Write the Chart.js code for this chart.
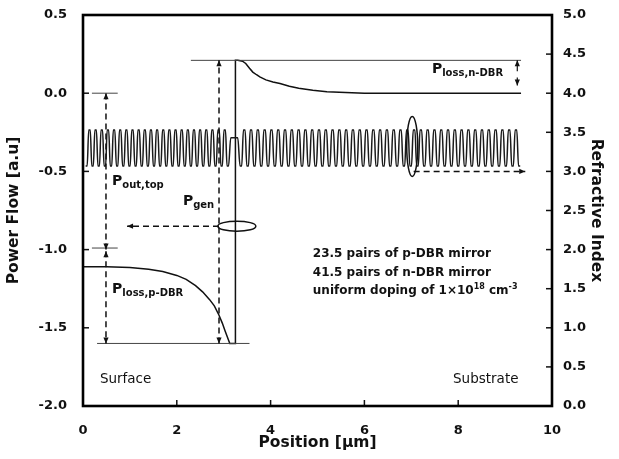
<!DOCTYPE html>
<html>
<head>
<meta charset="utf-8">
<script src="https://cdn.jsdelivr.net/npm/chart.js@4.4.1/dist/chart.umd.min.js"></script>
<style>
  html, body { margin: 0; padding: 0; background: #fff; }
  canvas { display: block; }
</style>
</head>
<body>
<canvas id="chart" width="619" height="459"></canvas>
<script>
// power flow through the structure (left axis)
const powerPos  = [0, 0.5, 1.0, 1.4, 1.7, 2.0, 2.2, 2.4, 2.55, 2.7, 2.8, 2.9, 2.97, 3.03, 3.08, 3.13, 3.2, 3.25,
                   3.25, 3.3, 3.4, 3.47, 3.55, 3.62, 3.7, 3.77, 3.9, 4.05, 4.2, 4.4, 4.6, 4.9, 5.2, 5.6, 6.0, 9.34];
const powerFlow = [-1.11, -1.11, -1.115, -1.125, -1.14, -1.165, -1.19, -1.23, -1.27, -1.32, -1.36, -1.42, -1.47, -1.52, -1.56, -1.6, -1.6, -1.6,
                   0.21, 0.21, 0.205, 0.19, 0.16, 0.135, 0.118, 0.104, 0.085, 0.072, 0.062, 0.045, 0.031, 0.019, 0.01, 0.004, 0, 0];

// layer stack (right axis)
const pMirrorPairs = 23.5;
const nMirrorPairs = 41.5;
const pMirrorSpan  = [0.04, 3.12];
const cavitySpan   = [3.12, 3.33];
const nMirrorSpan  = [3.33, 9.34];
const highIndex    = 3.53;
const lowIndex     = 3.07;
const cavityIndex  = 3.43;

// axes
const positionTicks = [0, 2, 4, 6, 8, 10];
const powerTicks    = [-2.0, -1.5, -1.0, -0.5, 0.0, 0.5];
const indexTicks    = [0.0, 0.5, 1.0, 1.5, 2.0, 2.5, 3.0, 3.5, 4.0, 4.5, 5.0];

// reference levels of the power budget
const topLevel     = 0.21;
const outLevel     = 0.0;
const splitLevel   = -0.99;
const bottomLevel  = -1.6;

const notes = ['23.5 pairs of p-DBR mirror', '41.5 pairs of n-DBR mirror'];

// stack layers of a mirror, starting and ending on the low index
function mirrorLayers(span, pairs) {
  const count = Math.round(pairs * 2);
  const t = (span[1] - span[0]) / count;
  const pts = [];
  for (let i = 0; i < count; i++) {
    const n = i % 2 === 0 ? lowIndex : highIndex;
    const a = span[0] + i * t;
    pts.push({ x: a + 0.25 * t, y: n }, { x: a + 0.75 * t, y: n });
  }
  return pts;
}

const indexProfile = [
  ...mirrorLayers(pMirrorSpan, pMirrorPairs),
  { x: cavitySpan[0] + 0.03, y: cavityIndex },
  { x: cavitySpan[1] - 0.03, y: cavityIndex },
  ...mirrorLayers(nMirrorSpan, nMirrorPairs)
];

const FONT = '"DejaVu Sans", "Liberation Sans", Arial, sans-serif';

function arrowHead(ctx, x1, y1, x2, y2) {
  const a = Math.atan2(y2 - y1, x2 - x1);
  const len = 6, w = 2.6;
  ctx.save();
  ctx.setLineDash([]);
  ctx.beginPath();
  ctx.moveTo(x2, y2);
  ctx.lineTo(x2 - len * Math.cos(a) + w * Math.sin(a), y2 - len * Math.sin(a) - w * Math.cos(a));
  ctx.lineTo(x2 - len * Math.cos(a) - w * Math.sin(a), y2 - len * Math.sin(a) + w * Math.cos(a));
  ctx.closePath();
  ctx.fill();
  ctx.restore();
}

function arrow(ctx, p1, p2, opts) {
  ctx.save();
  ctx.lineWidth = opts.width || 1.5;
  ctx.setLineDash(opts.dash || []);
  ctx.beginPath();
  ctx.moveTo(p1[0], p1[1]);
  ctx.lineTo(p2[0], p2[1]);
  ctx.stroke();
  if (opts.end) arrowHead(ctx, p1[0], p1[1], p2[0], p2[1]);
  if (opts.start) arrowHead(ctx, p2[0], p2[1], p1[0], p1[1]);
  ctx.restore();
}

// text made of runs, each with its own size and baseline shift
function runs(ctx, x, y, parts) {
  ctx.save();
  ctx.textBaseline = 'alphabetic';
  ctx.textAlign = 'left';
  let cx = x;
  parts.forEach(p => {
    ctx.font = (p.weight || 'bold') + ' ' + p.size + 'px ' + FONT;
    ctx.fillText(p.t, cx, y + (p.dy || 0));
    cx += ctx.measureText(p.t).width;
  });
  ctx.restore();
}

const annotations = {
  id: 'annotations',
  afterDatasetsDraw(chart) {
    const { ctx, chartArea: a, scales: { x, y, y2 } } = chart;
    const P  = (u, v) => [x.getPixelForValue(u), y.getPixelForValue(v)];
    const P2 = (u, v) => [x.getPixelForValue(u), y2.getPixelForValue(v)];
    ctx.save();
    ctx.strokeStyle = '#111';
    ctx.fillStyle = '#111';

    // thin level lines
    ctx.lineWidth = 1;
    ctx.strokeStyle = '#444';
    [[2.3, 9.34, topLevel], [0.19, 0.74, outLevel], [0.19, 0.74, splitLevel], [0.3, 3.55, bottomLevel]]
      .forEach(([u1, u2, v]) => {
        const p1 = P(u1, v), p2 = P(u2, v);
        ctx.beginPath(); ctx.moveTo(p1[0], p1[1]); ctx.lineTo(p2[0], p2[1]); ctx.stroke();
      });
    ctx.strokeStyle = '#111';

    const dash = [6, 4];
    // P_out,top and P_loss,p-DBR
    arrow(ctx, P(0.49, splitLevel - 0.01), P(0.49, outLevel), { dash, start: true, end: true });
    arrow(ctx, P(0.49, splitLevel - 0.02), P(0.49, bottomLevel), { dash, start: true, end: true });
    // P_gen
    arrow(ctx, P(2.9, bottomLevel), P(2.9, topLevel), { dash, start: true, end: true });
    // left axis pointer
    arrow(ctx, P(2.9, -0.85), P(0.94, -0.85), { dash, end: true });
    // right axis pointer
    arrow(ctx, P2(7.05, 3.0), P2(9.43, 3.0), { dash, end: true });
    // P_loss,n-DBR markers
    arrow(ctx, P(9.26, 0.14), P(9.26, topLevel), { width: 1.2, end: true });
    arrow(ctx, P(9.26, 0.1), P(9.26, 0.05), { width: 1.2, end: true });

    // ellipses
    ctx.lineWidth = 1.5;
    ctx.setLineDash([]);
    let c = P(3.28, -0.85);
    ctx.beginPath(); ctx.ellipse(c[0], c[1], 19, 5, 0, 0, Math.PI * 2); ctx.stroke();
    c = P2(7.02, 3.32);
    ctx.beginPath(); ctx.ellipse(c[0], c[1], 5.5, 30, 0, 0, Math.PI * 2); ctx.stroke();

    // labels
    let t = P(0.62, -0.59);
    runs(ctx, t[0], t[1], [{ t: 'P', size: 14 }, { t: 'out,top', size: 10, dy: 3 }]);
    t = P(2.13, -0.716);
    runs(ctx, t[0], t[1], [{ t: 'P', size: 14 }, { t: 'gen', size: 10, dy: 3 }]);
    t = P(0.62, -1.28);
    runs(ctx, t[0], t[1], [{ t: 'P', size: 14 }, { t: 'loss,p-DBR', size: 10, dy: 3 }]);
    t = P(7.44, 0.128);
    runs(ctx, t[0], t[1], [{ t: 'P', size: 14 }, { t: 'loss,n-DBR', size: 10, dy: 3 }]);

    t = P(4.9, -1.05);
    runs(ctx, t[0], t[1], [{ t: notes[0], size: 12 }]);
    t = P(4.9, -1.167);
    runs(ctx, t[0], t[1], [{ t: notes[1], size: 12 }]);
    t = P(4.9, -1.283);
    runs(ctx, t[0], t[1], [{ t: 'uniform doping of 1\u00d710', size: 12 }, { t: '18', size: 8, dy: -5 },
                           { t: ' cm', size: 12 }, { t: '-3', size: 8, dy: -5 }]);

    t = P(0.36, -1.85);
    runs(ctx, t[0], t[1], [{ t: 'Surface', size: 13.5, weight: 'normal' }]);
    t = P(7.89, -1.85);
    runs(ctx, t[0], t[1], [{ t: 'Substrate', size: 13.5, weight: 'normal' }]);

    // inward tick marks
    ctx.lineWidth = 1.5;
    x.ticks.forEach(k => {
      const px = x.getPixelForValue(k.value);
      ctx.beginPath(); ctx.moveTo(px, a.bottom); ctx.lineTo(px, a.bottom - 6); ctx.stroke();
    });
    y.ticks.forEach(k => {
      const py = y.getPixelForValue(k.value);
      ctx.beginPath(); ctx.moveTo(a.left, py); ctx.lineTo(a.left + 6, py); ctx.stroke();
    });
    y2.ticks.forEach(k => {
      const py = y2.getPixelForValue(k.value);
      ctx.beginPath(); ctx.moveTo(a.right, py); ctx.lineTo(a.right - 6, py); ctx.stroke();
    });

    // frame
    ctx.lineWidth = 2.6;
    ctx.strokeStyle = '#000';
    ctx.strokeRect(a.left, a.top, a.right - a.left, a.bottom - a.top);
    ctx.restore();
  }
};

const tickFont = { family: FONT, size: 13, weight: 'bold' };
const titleFont = { family: FONT, size: 15.5, weight: 'bold' };

// fixed box sizes so the plot area sits where the frame belongs
const fitBox = (w, h) => s => {
  if (w) s.width = w;
  if (h) s.height = h;
  s.paddingTop = 0; s.paddingBottom = 0; s.paddingLeft = 0; s.paddingRight = 0;
};

new Chart(document.getElementById('chart'), {
  type: 'line',
  data: {
    datasets: [
      {
        data: indexProfile,
        yAxisID: 'y2',
        borderColor: '#1a1a1a',
        borderWidth: 1.5,
        pointRadius: 0,
        cubicInterpolationMode: 'monotone'
      },
      {
        data: powerPos.map((p, i) => ({ x: p, y: powerFlow[i] })),
        yAxisID: 'y',
        borderColor: '#111',
        borderWidth: 1.5,
        pointRadius: 0,
        tension: 0
      }
    ]
  },
  options: {
    responsive: false,
    devicePixelRatio: 1,
    animation: false,
    layout: { padding: { top: 15, left: 0, right: 0, bottom: 0 } },
    plugins: { legend: { display: false }, tooltip: { enabled: false } },
    scales: {
      x: {
        type: 'linear', min: 0, max: 10,
        afterBuildTicks: s => { s.ticks = positionTicks.map(v => ({ value: v })); },
        afterFit: fitBox(0, 53),
        grid: { display: false, drawTicks: false },
        border: { display: false },
        ticks: { color: '#111', font: tickFont, padding: 17, autoSkip: false, maxRotation: 0 },
        title: { display: true, text: 'Position [\u03bcm]', color: '#111', font: titleFont, padding: { top: 0, bottom: 7 } }
      },
      y: {
        position: 'left', min: -2, max: 0.5,
        afterBuildTicks: s => { s.ticks = powerTicks.map(v => ({ value: v })); },
        afterFit: fitBox(83, 0),
        grid: { display: false, drawTicks: false },
        border: { display: false },
        ticks: { color: '#111', font: tickFont, padding: 16, autoSkip: false, callback: v => v.toFixed(1) },
        title: { display: true, text: 'Power Flow [a.u]', color: '#111', font: titleFont, padding: { top: 5, bottom: 0 } }
      },
      y2: {
        position: 'right', min: 0, max: 5,
        afterBuildTicks: s => { s.ticks = indexTicks.map(v => ({ value: v })); },
        afterFit: fitBox(67, 0),
        grid: { display: false, drawTicks: false },
        border: { display: false },
        ticks: { color: '#111', font: tickFont, padding: 11, autoSkip: false, callback: v => v.toFixed(1) },
        title: { display: true, text: 'Refractive Index', color: '#111', font: titleFont, padding: { top: 14, bottom: 0 } }
      }
    }
  },
  plugins: [annotations]
});
</script>
</body>
</html>
